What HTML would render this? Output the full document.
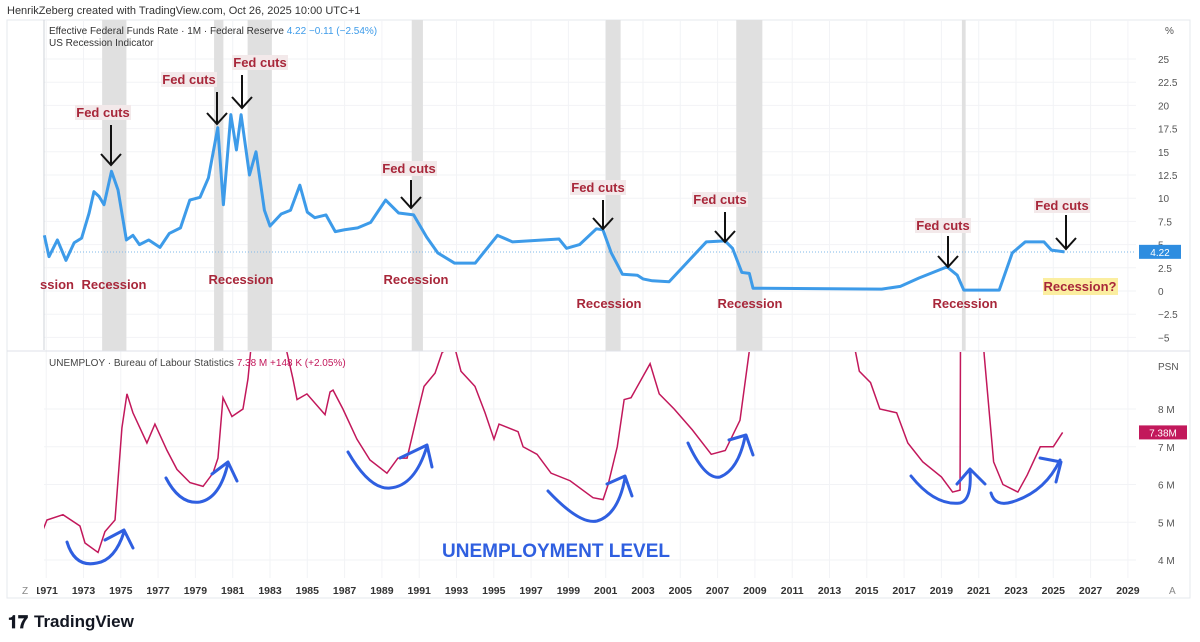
<!DOCTYPE html>
<html><head><meta charset="utf-8"><style>
body{margin:0;background:#fff;font-family:"Liberation Sans",sans-serif}
svg{display:block}
</style></head><body>
<svg id="c" width="1200" height="642" xmlns="http://www.w3.org/2000/svg" font-family="Liberation Sans, sans-serif">
<defs><clipPath id="axclip"><rect x="37" y="0" width="1163" height="642"/></clipPath></defs>
<rect width="1200" height="642" fill="#fff"/>
<text x="7" y="14" font-size="11" fill="#333">HenrikZeberg created with TradingView.com, Oct 26, 2025 10:00 UTC+1</text>
<rect x="7" y="20" width="1183" height="578" fill="none" stroke="#e6e8ee"/>
<g id="grid"></g>
<g id="rec"></g>
<line x1="7" y1="351" x2="1190" y2="351" stroke="#dfe2e8"/>
<line x1="44" y1="20" x2="44" y2="350" stroke="#cfd3da"/>
<line x1="44" y1="252" x2="1136" y2="252" stroke="#7fb8ea" stroke-dasharray="1,2"/>
<g id="series"></g>
<g id="axes"></g>
<g id="xaxis" clip-path="url(#axclip)"></g>
<text x="49" y="34" font-size="10" fill="#333">Effective Federal Funds Rate · 1M · Federal Reserve <tspan fill="#3d9be9">4.22  −0.11 (−2.54%)</tspan></text>
<text x="49" y="46" font-size="10" fill="#333">US Recession Indicator</text>
<text x="49" y="366" font-size="10" fill="#444">UNEMPLOY · Bureau of Labour Statistics <tspan fill="#c2185b">7.38 M  +148 K (+2.05%)</tspan></text>
<g id="ann"></g>
<text x="442" y="557" font-size="19" font-weight="bold" fill="#2f5fe0">UNEMPLOYMENT LEVEL</text>
<text x="1165" y="34" font-size="10" fill="#555">%</text>
<text x="1158" y="370" font-size="10" fill="#555">PSN</text>
<text x="22" y="594" font-size="10" fill="#888">Z</text>
<text x="1169" y="594" font-size="10" fill="#888">A</text>
<g><text x="8" y="628" font-size="18" font-weight="bold" fill="#131722">𝟏𝟕</text><text x="34" y="627" font-size="17" fill="#131722" font-weight="bold">TradingView</text></g>
</svg>
<script>
const recStart=[1974.0,1980.0,1981.8,1990.6,2001.0,2008.0,2020.1];
const recEnd=[1975.3,1980.5,1983.1,1991.2,2001.8,2009.4,2020.3];
const fedYears=[1970.9,1971.15,1971.6,1972.06,1972.5,1972.9,1973.3,1973.56,1973.83,1974.1,1974.5,1974.85,1975.3,1975.65,1976.0,1976.5,1977.1,1977.6,1978.2,1978.7,1979.25,1979.7,1980.2,1980.5,1980.9,1981.2,1981.45,1981.9,1982.25,1982.7,1983.0,1983.6,1984.1,1984.6,1985.0,1985.4,1986.0,1986.5,1987.0,1987.7,1988.4,1989.2,1989.9,1990.7,1991.4,1992.0,1992.9,1994.0,1995.2,1996.0,1998.5,1998.9,1999.6,2000.5,2000.85,2001.3,2001.9,2002.7,2003.0,2003.5,2004.4,2006.4,2007.4,2007.8,2008.3,2008.7,2008.9,2015.8,2016.8,2017.8,2019.3,2019.85,2020.2,2022.1,2022.8,2023.5,2024.5,2024.9,2025.6];
const fedValues=[6.0,3.7,5.5,3.3,5.2,5.7,8.4,10.7,10.2,9.3,12.9,10.9,5.5,6.0,5.0,5.5,4.7,6.2,6.8,9.8,10.1,12.2,17.6,9.3,19.0,15.2,19.0,12.5,15.0,8.7,7.0,8.3,8.7,11.4,8.5,7.9,8.2,6.4,6.6,6.8,7.4,9.8,8.4,8.2,5.8,4.1,3.0,3.0,6.0,5.3,5.6,4.6,5.0,6.7,6.6,4.1,1.8,1.7,1.3,1.1,1.0,5.3,5.4,4.6,2.0,1.9,0.3,0.2,0.5,1.4,2.6,1.7,0.1,0.1,4.1,5.3,5.3,4.4,4.22];
const unYears=[1970.83,1971.04,1971.9,1972.81,1973.08,1973.78,1974.15,1974.69,1975.06,1975.33,1975.65,1976.4,1976.83,1977.48,1978.01,1978.71,1979.41,1979.94,1980.21,1980.48,1980.96,1981.55,1981.82,1982.09,1982.73,1983.54,1983.91,1984.23,1984.45,1984.98,1985.95,1986.22,1986.38,1986.91,1987.66,1988.36,1989.27,1989.86,1990.35,1990.99,1991.26,1991.85,1992.23,1992.87,1993.24,1993.99,1994.53,1995.01,1995.28,1996.3,1996.57,1997.32,1998.07,1999.09,2000.32,2000.86,2001.13,2001.62,2001.99,2002.36,2003.38,2003.87,2004.67,2005.64,2006.66,2007.41,2008.2,2008.69,2009.0,2011.4,2014.4,2014.6,2015.2,2015.7,2016.6,2017.2,2018.0,2019.0,2019.6,2020.0,2020.1,2020.5,2020.9,2021.3,2021.8,2022.3,2023.1,2023.6,2024.3,2025.0,2025.5];
const unValues=[4.8,5.06,5.2,4.9,4.45,4.2,4.75,5.06,7.5,8.4,7.9,7.1,7.6,6.9,6.4,6.05,5.95,6.3,6.7,8.3,7.8,8.0,8.8,10.2,11.8,11.0,9.5,8.8,8.25,8.4,7.85,8.45,8.5,8.0,7.2,6.65,6.3,6.7,6.7,8.05,8.6,8.95,9.5,9.7,9.0,8.6,7.9,7.2,7.6,7.4,7.0,6.8,6.3,6.1,5.65,5.6,6.0,7.0,8.25,8.3,9.2,8.4,8.0,7.45,6.8,6.9,7.7,9.5,11,14,9.5,9.0,8.7,8.0,7.9,7.1,6.6,6.2,5.8,5.85,23,16,12,9.4,6.6,6.0,5.8,6.25,7.0,7.0,7.38];
const xTicks=[1971,1973,1975,1977,1979,1981,1983,1985,1987,1989,1991,1993,1995,1997,1999,2001,2003,2005,2007,2009,2011,2013,2015,2017,2019,2021,2023,2025,2027,2029];
const fedTicks=[25,22.5,20,17.5,15,12.5,10,7.5,5,2.5,0,-2.5,-5];
const unTicks=[8,7,6,5,4];
const fedLast=4.22, unLast=7.38;

const NS="http://www.w3.org/2000/svg";
const X=y=>83.5+(y-1973)*18.65;
const YF=v=>291-v*9.28;
const YU=v=>560-(v-4)*37.75;
function mk(tag,attrs,parent,txt){const e=document.createElementNS(NS,tag);for(const k in attrs)e.setAttribute(k,attrs[k]);if(txt!==undefined)e.textContent=txt;parent.appendChild(e);return e;}
const grid=document.getElementById('grid'),rec=document.getElementById('rec'),ser=document.getElementById('series'),ax=document.getElementById('axes'),xax=document.getElementById('xaxis'),ann=document.getElementById('ann');
xTicks.forEach(t=>{const l=mk('line',{x1:X(t),x2:X(t),y1:20,y2:578,stroke:'#f2f3f6'},grid);


const tx=mk('text',{x:X(t),y:594,'font-size':10.5,'text-anchor':'middle',fill:'#333','font-weight':'bold'},xax,String(t));

});
fedTicks.forEach(t=>{const l=mk('line',{x1:44,x2:1136,y1:YF(t),y2:YF(t),stroke:'#f2f3f6'},grid);


const tx=mk('text',{x:1158,y:YF(t)+4,'font-size':10,fill:'#555'},ax,String(t).replace('-','−'));

});
unTicks.forEach(t=>{const l=mk('line',{x1:44,x2:1136,y1:YU(t),y2:YU(t),stroke:'#f2f3f6'},grid);


const tx=mk('text',{x:1158,y:YU(t)+4,'font-size':10,fill:'#555'},ax,t+' M');

});
recStart.forEach((s,i)=>{const r=mk('rect',{x:X(s),y:20,width:Math.max(3,X(recEnd[i])-X(s)),height:331,fill:'#e0e0e0'},rec);

});
const fp=mk('polyline',{points:fedYears.map((y,i)=>X(y)+','+YF(fedValues[i])).join(' '),fill:'none',stroke:'#3d9be9','stroke-width':3,'stroke-linejoin':'round'},ser);


const cp=mk('clipPath',{id:'bot'},ser);mk('rect',{x:44,y:352,width:1092,height:226},cp);
const up=mk('polyline',{points:unYears.map((y,i)=>X(y)+','+YU(unValues[i])).join(' '),fill:'none',stroke:'#c2185b','stroke-width':1.5,'clip-path':'url(#bot)'},ser);


const b1=mk('rect',{x:1139,y:YF(fedLast)-7,width:42,height:14,fill:'#2e8de0'},ax);


mk('text',{x:1160,y:YF(fedLast)+4,'font-size':10,fill:'#fff','text-anchor':'middle'},ax,String(fedLast));
const b2=mk('rect',{x:1139,y:YU(unLast)-7,width:48,height:14,fill:'#c2185b'},ax);


mk('text',{x:1163,y:YU(unLast)+4,'font-size':10,fill:'#fff','text-anchor':'middle'},ax,unLast+'M');

const cuts=[[103,115,111,125,165],[189,82,217,92,124],[260,65,242,75,108],[409,171,411,180,208],[598,190,603,200,229],[720,202,725,212,242],[943,228,948,236,267],[1062,208,1066,215,249]];
cuts.forEach(c=>{const g=mk('g',{},ann);


mk('rect',{x:c[0]-28,y:c[1]-10,width:56,height:15,fill:'#f3e9ea'},g);
mk('text',{x:c[0],y:c[1]+2,'font-size':13,'font-weight':'bold',fill:'#a8273a','text-anchor':'middle'},g,'Fed cuts');
mk('path',{d:`M${c[2]} ${c[3]}V${c[4]}M${c[2]-10} ${c[4]-11}L${c[2]} ${c[4]}L${c[2]+10} ${c[4]-11}`,stroke:'#111','stroke-width':2,fill:'none'},g);});
const recs=[[40,284,'start'],[114,284,'middle'],[241,279,'middle'],[416,279,'middle'],[609,303,'middle'],[750,303,'middle'],[965,303,'middle']];
recs.forEach(r=>{const t=mk('text',{x:r[0],y:r[1]+5,'font-size':13,'font-weight':'bold',fill:'#a8273a','text-anchor':r[2]},ann,r[2]=='start'?'ssion':'Recession');

});
const rq=mk('rect',{x:1043,y:278,width:75,height:17,fill:'#fbeea0'},ann);


mk('text',{x:1080,y:291,'font-size':13,'font-weight':'bold',fill:'#a8273a','text-anchor':'middle'},ann,'Recession?');
const curves=[
'M67 542Q75 568 97 563Q115 560 124 532M105 540L124 530L133 548',
'M166 478Q180 505 200 502Q220 498 228 463M212 474L228 462L237 481',
'M348 452Q370 490 390 488Q415 486 427 446M400 458L427 445L432 467',
'M548 491Q580 525 597 521Q618 515 625 478M607 484L625 476L632 496',
'M688 443Q705 480 720 477Q738 470 745 437M729 440L746 435L753 455',
'M911 476Q935 506 960 503Q972 500 970 470M957 484L970 469L985 484',
'M991 493Q995 507 1012 502Q1045 492 1060 460M1040 458L1061 462L1056 482'];
curves.forEach(d=>{const p=mk('path',{d:d,stroke:'#2f5fe0','stroke-width':3,fill:'none','stroke-linecap':'round','stroke-linejoin':'round'},ann);

});
</script>
</body></html>
